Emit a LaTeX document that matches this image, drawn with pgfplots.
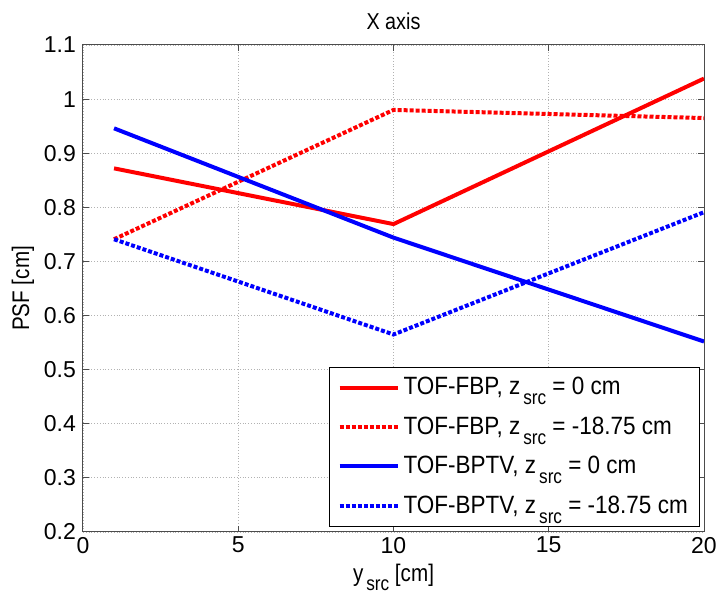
\documentclass[border=0pt]{standalone}
\usepackage{pgfplots}
\pgfplotsset{compat=1.18}
\usepackage{fontspec}
\setmainfont{Liberation Sans}
\newfontfamily\nar[FakeStretch=0.86]{Liberation Sans}
\newfontfamily\leg[FakeStretch=0.9]{Liberation Sans}
\newcommand\sub[1]{\kern1.5pt\relax\raisebox{-0.75ex}{\fontsize{10}{10}\nar #1}}
\begin{document}
\begin{tikzpicture}
\begin{axis}[
  scale only axis,
  width=310.5pt, height=243.5pt,
  xmin=0, xmax=20, ymin=0.2, ymax=1.1,
  xtick={0,5,10,15,20},
  ytick={0.2,0.3,0.4,0.5,0.6,0.7,0.8,0.9,1,1.1},
  /pgf/number format/assume math mode=true,
  /pgf/number format/fixed,
  tick align=inside,
  tick pos=both,
  major tick length=3pt,
  grid=major,
  major grid style={densely dotted, gray!60, line width=0.4pt},
  axis line style={black!70, line width=0.5pt},
  tick style={black!70, line width=0.5pt},
  tick label style={font=\fontsize{11.5}{13}\selectfont},
  xticklabel style={yshift=1pt},
  label style={font=\fontsize{12}{13}\nar},
  title style={font=\fontsize{11.5}{13}\nar, yshift=-2pt},
  title={X axis},
  xlabel={y\sub{src} [cm]},
  ylabel={PSF [cm]},
  xlabel style={yshift=1.5pt},
  ylabel style={yshift=-2pt},
  legend style={at={(rel axis cs:0.994,0.011)}, anchor=south east,
    font=\fontsize{12.5}{13}\leg, draw=black, line width=0.5pt,
    row sep=5.5pt, inner ysep=3pt, inner xsep=4pt,
    cells={anchor=west}},
  legend cell align=left,
  legend image code/.code={\draw[#1] (0pt,0pt) -- (29pt,0pt);},
]
\coordinate (sw) at (rel axis cs:0,0);
\coordinate (ne) at (rel axis cs:1,1);
\addplot[red, line width=2pt] coordinates {(1,0.872) (10,0.769) (20,1.038)};
\addlegendentry{TOF-FBP, z\sub{src} = 0 cm}
\addplot[red, line width=2pt, dash pattern=on 2pt off 1pt] coordinates {(1,0.741) (10,0.980) (20,0.965)};
\addlegendentry{TOF-FBP, z\sub{src} = -18.75 cm}
\addplot[blue, line width=2pt] coordinates {(1,0.946) (10,0.744) (20,0.552)};
\addlegendentry{TOF-BPTV, z\sub{src} = 0 cm}
\addplot[blue, line width=2pt, dash pattern=on 2pt off 1pt] coordinates {(1,0.741) (10,0.565) (20,0.791)};
\addlegendentry{TOF-BPTV, z\sub{src} = -18.75 cm}
\end{axis}
\pgfresetboundingbox
\path[use as bounding box] ([shift={(-41.5pt,-32.5pt)}]sw) rectangle ([shift={(7pt,22.5pt)}]ne);
\end{tikzpicture}
\end{document}
